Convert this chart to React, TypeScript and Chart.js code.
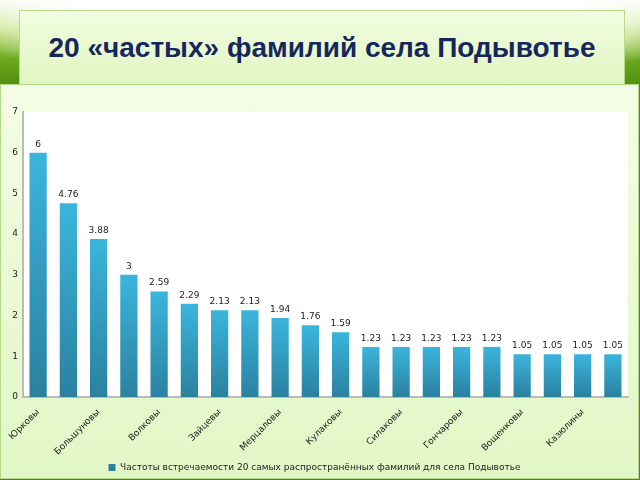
import React, { useEffect, useRef } from "react";
import { Chart, registerables } from "chart.js";

Chart.register(...registerables);

const categories: string[] = [
  "Юрковы", "", "Большуновы", "", "Волковы", "", "Зайцевы", "", "Мерцаловы", "",
  "Кулаковы", "", "Силаковы", "", "Гончаровы", "", "Вощенковы", "", "Казюлины", "",
];
const frequencies: number[] = [
  6, 4.76, 3.88, 3, 2.59, 2.29, 2.13, 2.13, 1.94, 1.76,
  1.59, 1.23, 1.23, 1.23, 1.23, 1.23, 1.05, 1.05, 1.05, 1.05,
];
const seriesName = "Частоты встречаемости 20 самых распространённых фамилий для села Подывотье";
const yTicks: number[] = [0, 1, 2, 3, 4, 5, 6, 7];
const title = "20 «частых» фамилий села Подывотье";

const FONT = "'DejaVu Sans', Verdana, sans-serif";

const whiteArea = {
  id: "whiteArea",
  beforeDraw(chart: any) {
    const { ctx, chartArea } = chart;
    if (!chartArea) return;
    ctx.save();
    ctx.fillStyle = "#ffffff";
    ctx.fillRect(chartArea.left, chartArea.top, chartArea.right - chartArea.left, chartArea.bottom - chartArea.top);
    ctx.restore();
  },
};

const valueLabels = {
  id: "valueLabels",
  afterDatasetsDraw(chart: any) {
    const { ctx } = chart;
    const meta = chart.getDatasetMeta(0);
    ctx.save();
    ctx.font = `9px ${FONT}`;
    ctx.fillStyle = "#222222";
    ctx.textAlign = "center";
    ctx.textBaseline = "bottom";
    meta.data.forEach((bar: any, i: number) => {
      const v = chart.data.datasets[0].data[i];
      ctx.fillText(String(v), bar.x, bar.y - 4);
    });
    ctx.restore();
  },
};

export default function App() {
  const ref = useRef<HTMLCanvasElement>(null);
  useEffect(() => {
    if (!ref.current) return;
    const chart = new Chart(ref.current, {
      type: "bar",
      data: {
        labels: categories,
        datasets: [
          {
            label: seriesName,
            data: frequencies,
            backgroundColor: (c: any) => {
              const ch = c.chart;
              const ys = ch.scales && ch.scales.y;
              if (!ys || c.raw === undefined) return "#33a9cf";
              const top = ys.getPixelForValue(c.raw);
              const bottom = ys.getPixelForValue(0);
              if (!isFinite(top) || !isFinite(bottom) || top === bottom) return "#33a9cf";
              const g = ch.ctx.createLinearGradient(0, top, 0, bottom);
              g.addColorStop(0, "#3bb5dd");
              g.addColorStop(1, "#2a819f");
              return g;
            },
            borderWidth: 0,
            barPercentage: 0.57,
            categoryPercentage: 1,
          },
        ],
      },
      options: {
        animation: false,
        responsive: false,
        maintainAspectRatio: false,
        layout: { padding: { top: 27, right: 10, left: 0, bottom: 4 } },
        plugins: {
          legend: {
            position: "bottom",
            labels: {
              font: { family: FONT, size: 9 },
              color: "#222222",
              boxWidth: 7,
              boxHeight: 7,
              padding: 6,
            },
          },
          tooltip: { enabled: false },
        },
        scales: {
          x: {
            grid: { display: false },
            border: { display: true, color: "#bbbbbb", width: 2 },
            ticks: {
              autoSkip: false,
              minRotation: 45,
              maxRotation: 45,
              font: { family: FONT, size: 9 },
              color: "#222222",
              padding: 2,
            },
            afterFit: (s: any) => {
              s.height = 60;
            },
          },
          y: {
            min: 0,
            max: 7,
            afterBuildTicks: (s: any) => {
              s.ticks = yTicks.map((v) => ({ value: v }));
            },
            grid: { display: false, drawTicks: false },
            border: { display: true, color: "#bbbbbb", width: 2 },
            ticks: {
              font: { family: FONT, size: 9 },
              color: "#222222",
              padding: 5,
            },
            afterFit: (s: any) => {
              s.width = 22;
            },
          },
        },
      },
      plugins: [whiteArea, valueLabels],
    } as any);
    return () => chart.destroy();
  }, []);

  return (
    <div
      style={{
        position: "fixed",
        left: 0,
        top: 0,
        width: 640,
        height: 480,
        overflow: "hidden",
        background:
          "radial-gradient(ellipse 420px 90px at 330px 0px, #ffffff 60%, rgba(255,255,255,0) 100%), linear-gradient(180deg, #f4f8ec 0px, #b9dc6a 30px, #6aa81c 60px, #4f8a10 90px)",
      }}
    >
      <div
        style={{
          position: "absolute",
          left: 19,
          top: 10,
          width: 604,
          height: 73,
          background: "linear-gradient(180deg, #f1fde0 0%, #e1f6c2 100%)",
          border: "1px solid #b8d98a",
          display: "flex",
          alignItems: "center",
          justifyContent: "center",
          fontFamily: "'Liberation Sans', Arial, sans-serif",
          fontWeight: "bold",
          fontSize: 28,
          color: "#17275c",
        }}
      >
        {title}
      </div>
      <div
        style={{
          position: "absolute",
          left: 0,
          top: 84,
          width: 637,
          height: 393,
          background: "linear-gradient(180deg, #f3fde4 0%, #e2f7c6 100%)",
          border: "1px solid #b5d98a",
        }}
      />
      <canvas
        ref={ref}
        width={637}
        height={401}
        style={{ display: "block", position: "absolute", left: 1, top: 85 }}
      />
    </div>
  );
}
